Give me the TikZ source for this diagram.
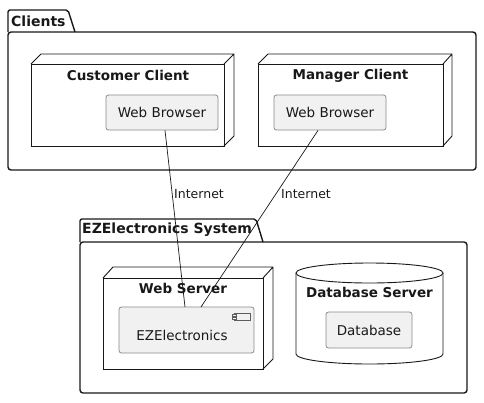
\documentclass[tikz,border=0pt]{standalone}
\usepackage{fontspec}
\setmainfont{DejaVu Sans}
\usetikzlibrary{calc}
\definecolor{ink}{HTML}{181818}
\definecolor{compfill}{HTML}{F1F1F1}
\definecolor{compline}{HTML}{8A8A8A}
\tikzset{
  pkgline/.style={draw=ink, line width=1.4pt, line join=round},
  nodeline/.style={draw=ink, line width=0.9pt, fill=white},
  artifact/.style={draw=compline, fill=compfill, line width=0.8pt, rounded corners=2.5pt, inner sep=0pt, font=\fontsize{13.5}{15}\selectfont, text=ink},
  titletext/.style={font=\bfseries\fontsize{13.5}{15}\selectfont, text=ink, inner sep=0pt},
  pkgtext/.style={font=\bfseries\fontsize{14}{16}\selectfont, text=ink, inner sep=0pt, anchor=west},
  linklabel/.style={font=\fontsize{12.5}{14}\selectfont, text=ink, inner sep=0pt, anchor=west},
  connector/.style={draw=ink, line width=0.7pt},
}
\begin{document}
\begin{tikzpicture}[x=1pt,y=-1pt]
\useasboundingbox (0,0) rectangle (484,402);
% Clients package
\draw[pkgline, rounded corners=3pt] (8,32) rectangle (476,170);
\draw[pkgline, rounded corners=2pt] (8,32) -- (8,10) -- (68,10) -- (75,32);
\node[pkgtext] (pclients) at (11,21) {Clients};
% Customer Client node
\draw[nodeline] (31,64) rectangle (224,146);
\draw[draw=ink, line width=0.9pt] (31,64) -- (41,54) -- (234,54) -- (234,136) -- (224,146) (224,64) -- (234,54);
\node[titletext] (tcust) at (128,75.5) {Customer Client};
\node[artifact, minimum width=112pt, minimum height=35pt] (wb1) at (162,112.5) {Web Browser};
% Manager Client node
\draw[nodeline] (258,64) rectangle (443,146);
\draw[draw=ink, line width=0.9pt] (258,64) -- (268,54) -- (452,54) -- (452,136) -- (443,146) (443,64) -- (452,54);
\node[titletext] (tman) at (350.5,75.5) {Manager Client};
\node[artifact, minimum width=112pt, minimum height=35pt] (wb2) at (330,112.5) {Web Browser};
% EZElectronics System package
\draw[pkgline, rounded corners=3pt] (80,242) rectangle (467,393);
\draw[pkgline, rounded corners=2pt] (80,242) -- (80,219) -- (256,219) -- (263,242);
\node[pkgtext] (psys) at (82,230) {EZElectronics System};
% Web Server node
\draw[nodeline] (103,278) rectangle (263,369);
\draw[draw=ink, line width=0.9pt] (103,278) -- (113,267) -- (273,267) -- (273,359) -- (263,369) (263,278) -- (273,267);
\node[titletext] (tweb) at (183,288.5) {Web Server};
\node[artifact, minimum width=135pt, minimum height=46pt] (ez) at (186.5,330) {};
\node[font=\fontsize{13.5}{15}\selectfont, text=ink, inner sep=0pt] (ezt) at (182,335) {EZElectronics};
% component icon
\draw[draw=ink!70, line width=0.6pt, fill=compfill] (234,313) rectangle (250,320);
\draw[draw=ink!70, line width=0.6pt, fill=compfill] (232,314) rectangle (236,316) (232,317) rectangle (236,319);
% Database Server cylinder
\draw[nodeline] (296,273) -- (296,354) arc[start angle=180, end angle=0, x radius=73.5, y radius=10] -- (443,273);
\draw[nodeline] (369.5,273) ellipse[x radius=73.5, y radius=10];
\node[titletext] (tdb) at (369.5,292.5) {Database Server};
\node[artifact, minimum width=86pt, minimum height=36pt] (db) at (369,330) {Database};
% connectors
\coordinate (e1) at (185,307);
\coordinate (e2) at (201,307);
\draw[connector] ([xshift=3pt]wb1.south) -- (e1);
\draw[connector] ([xshift=-12pt]wb2.south) -- (e2);
\node[linklabel] (l1) at (174,194) {Internet};
\node[linklabel] (l2) at (281,194) {Internet};
\end{tikzpicture}
\end{document}
